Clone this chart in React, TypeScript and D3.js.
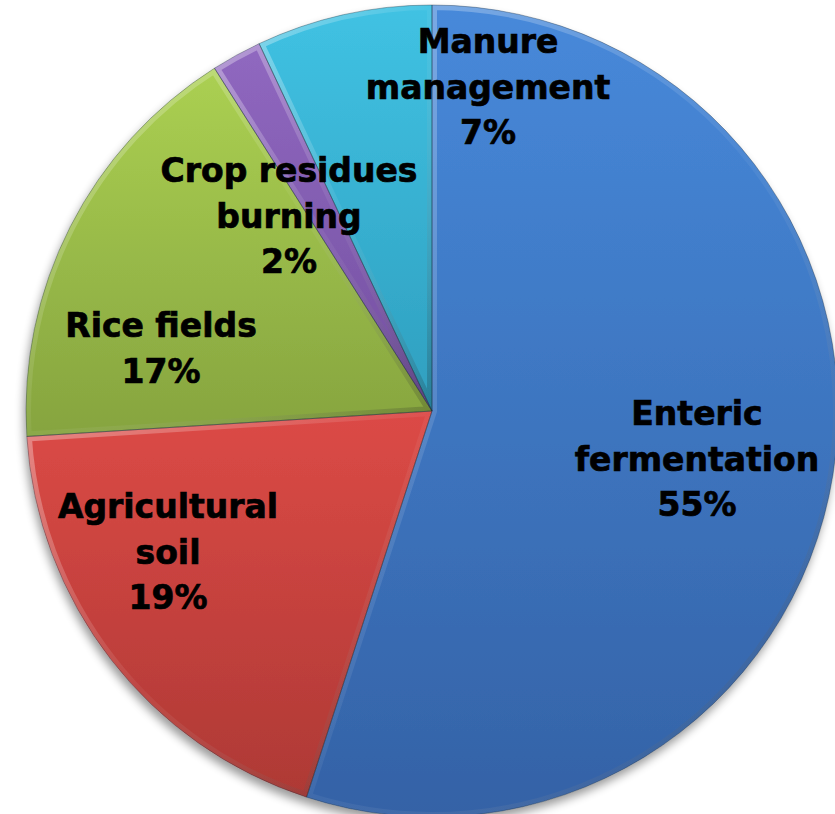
import React from "react";
import * as d3 from "d3";

const categories = ["Enteric fermentation", "Agricultural soil", "Rice fields", "Crop residues burning", "Manure management"];
const values = [55, 19, 17, 2, 7];
const labelLines = [
  ["Enteric", "fermentation", "55%"],
  ["Agricultural", "soil", "19%"],
  ["Rice fields", "17%"],
  ["Crop residues", "burning", "2%"],
  ["Manure", "management", "7%"],
];
const topColors = ["#4789da", "#dc4a46", "#abd052", "#9068c0", "#40c2e3"];
const bottomColors = ["#3462a6", "#ae3935", "#86a43f", "#7350a0", "#2f9fbf"];

// label anchors (x center, first baseline) in px, relative to the pie center
const labelAnchors = [
  [265, 14],
  [-264, 107],
  [-271, -74],
  [-143, -229],
  [56, -358],
];
const lineGap = 45.5;

const W = 835;
const H = 814;
const CX = 432;
const CY = 411;
const R = 406;

export default function App() {
  const pie = d3.pie<number>().sort(null).startAngle(0).endAngle(2 * Math.PI);
  const arcs = pie(values);
  const arcGen = d3.arc<d3.PieArcDatum<number>>().innerRadius(0).outerRadius(R);

  return (
    <svg width={W} height={H} style={{ position: "absolute", left: 0, top: 0, background: "#fff" }}>
      <defs>
        <filter id="shadow" x="-10%" y="-10%" width="120%" height="120%">
          <feGaussianBlur in="SourceAlpha" stdDeviation="5" />
          <feOffset dx="-2" dy="6" result="off" />
          <feComponentTransfer>
            <feFuncA type="linear" slope="0.4" />
          </feComponentTransfer>
          <feMerge>
            <feMergeNode />
            <feMergeNode in="SourceGraphic" />
          </feMerge>
        </filter>
        {arcs.map((a, i) => (
          <linearGradient key={"g" + i} id={"fill" + i} x1={0} y1={0} x2={0} y2={1}>
            <stop offset="0" stopColor={topColors[i]} />
            <stop offset="1" stopColor={bottomColors[i]} />
          </linearGradient>
        ))}
        <linearGradient id="bevel" x1="0" y1="0" x2="1" y2="1">
          <stop offset="0" stopColor="#fff" stopOpacity={0.35} />
          <stop offset="0.5" stopColor="#fff" stopOpacity={0.05} />
          <stop offset="1" stopColor="#000" stopOpacity={0.22} />
        </linearGradient>
        {arcs.map((a, i) => (
          <clipPath key={"c" + i} id={"clip" + i}>
            <path d={arcGen(a) || ""} />
          </clipPath>
        ))}
      </defs>
      <g transform={`translate(${CX},${CY})`}>
        <g filter="url(#shadow)">
          {arcs.map((a, i) => (
            <path key={"p" + i} d={arcGen(a) || ""} fill={`url(#fill${i})`} />
          ))}
        </g>
        {arcs.map((a, i) => (
          <g key={"b" + i} clipPath={`url(#clip${i})`}>
            <path d={arcGen(a) || ""} fill="none" stroke="url(#bevel)" strokeWidth={10} strokeLinejoin="round" />
          </g>
        ))}
        {arcs.map((a, i) => (
          <path key={"s" + i} d={arcGen(a) || ""} fill="none" stroke="#1a2a3a" strokeOpacity={0.35} strokeWidth={1} />
        ))}
        {arcs.map((a, i) => (
          <text
            key={"t" + i}
            x={labelAnchors[i][0]}
            y={labelAnchors[i][1]}
            textAnchor="middle"
            fontFamily="'DejaVu Sans', Verdana, sans-serif"
            fontWeight="bold"
            fontSize={33}
            fill="#000"
            stroke="#000"
            strokeWidth={0.7}
          >
            <title>{categories[i]}</title>
            {labelLines[i].map((ln, j) => (
              <tspan key={j} x={labelAnchors[i][0]} y={labelAnchors[i][1] + j * lineGap}>
                {ln}
              </tspan>
            ))}
          </text>
        ))}
      </g>
    </svg>
  );
}
